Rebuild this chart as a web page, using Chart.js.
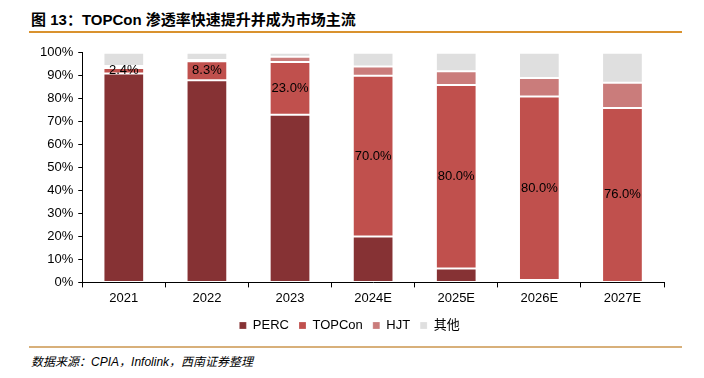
<!DOCTYPE html>
<html>
<head>
<meta charset="utf-8">
<script src="https://cdn.jsdelivr.net/npm/chart.js@4/dist/chart.umd.min.js"></script>
<style>
  html, body { margin: 0; padding: 0; background: #fff; }
  body { width: 704px; height: 378px; position: relative; overflow: hidden; font-family: "Liberation Sans", Arial, sans-serif; }
  #title { position: absolute; left: 31px; top: 8px; font-size: 15px; font-weight: bold; color: #000; white-space: nowrap; font-family: "Liberation Sans", "Noto Sans CJK SC", sans-serif; }
  #title .cjk { font-family: "Noto Sans CJK SC", sans-serif; font-weight: bold; }
  #topline { position: absolute; left: 29px; top: 31px; width: 653px; height: 2px; background: #D9922E; }
  #botline { position: absolute; left: 29px; top: 346px; width: 653px; height: 2px; background: #D8B07A; }
  #source { position: absolute; left: 31px; top: 352px; font-size: 12px; font-style: italic; color: #000; white-space: nowrap; }
  #source .cjk { font-family: "Noto Sans CJK SC", sans-serif; font-style: italic; }
  #wrap { position: absolute; left: 0; top: 40px; width: 704px; height: 306px; }
</style>
</head>
<body>
<div id="title"><span class="cjk">图</span> 13<span class="cjk">：</span>TOPCon <span class="cjk">渗透率快速提升并成为市场主流</span></div>
<div id="topline"></div>
<div id="wrap"><canvas id="c"></canvas></div>
<div id="botline"></div>
<div id="source"><span class="cjk">数据来源：</span>CPIA<span class="cjk">，</span>Infolink<span class="cjk">，西南证券整理</span></div>
<script>
const categories = ["2021", "2022", "2023", "2024E", "2025E", "2026E", "2027E"];
const seriesNames = ["PERC", "TOPCon", "HJT", "其他"];
const perc   = [91.0, 88.0, 73.0, 20.0, 6.0, 1.0, 0.0];
const topcon = [2.4, 8.3, 23.0, 70.0, 80.0, 80.0, 76.0];
const hjt    = [0.9, 0.6, 2.3, 4.0, 6.0, 8.0, 11.0];
const others = [5.7, 3.1, 1.7, 6.0, 8.0, 11.0, 13.0];
const yTicks = [0, 10, 20, 30, 40, 50, 60, 70, 80, 90, 100];

const colors = ["#863234", "#C0504D", "#CA7C7B", "#DFDFDF"];
const seriesData = [perc, topcon, hjt, others];

const labelPlugin = {
  id: 'segLabels',
  afterDatasetsDraw(chart) {
    const ctx = chart.ctx;
    const meta = chart.getDatasetMeta(1);
    ctx.save();
    ctx.font = '13px "Liberation Sans", Arial, sans-serif';
    ctx.fillStyle = '#000';
    ctx.textAlign = 'center';
    ctx.textBaseline = 'middle';
    meta.data.forEach((el, i) => {
      const p = el.getProps(['x', 'y', 'base'], true);
      ctx.fillText(topcon[i].toFixed(1) + '%', p.x, (p.y + p.base) / 2);
    });
    ctx.restore();
  }
};

new Chart(document.getElementById('c'), {
  type: 'bar',
  data: {
    labels: categories,
    datasets: seriesData.map((d, i) => ({
      label: seriesNames[i],
      data: d,
      backgroundColor: colors[i],
      borderColor: 'rgba(255,255,255,0.22)',
      borderWidth: 1,
      borderSkipped: false,
      categoryPercentage: 1.0,
      barPercentage: 0.49
    }))
  },
  options: {
    responsive: true,
    maintainAspectRatio: false,
    animation: false,
    layout: { padding: { left: 35, right: 40, top: 4, bottom: 4 } },
    plugins: {
      legend: {
        position: 'bottom',
        labels: {
          boxWidth: 7, boxHeight: 7, padding: 10,
          color: '#000',
          font: { size: 13, family: '"Liberation Sans", "Noto Sans CJK SC", Arial, sans-serif' }
        }
      },
      tooltip: { enabled: false }
    },
    scales: {
      x: {
        stacked: true,
        grid: { display: true, drawOnChartArea: false, offset: true, tickLength: 5, color: '#000' },
        border: { display: true, color: '#000', width: 1 },
        ticks: { color: '#000', padding: 3, font: { size: 13, family: '"Liberation Sans", Arial, sans-serif' } }
      },
      y: {
        stacked: true,
        min: 0, max: 100,
        afterBuildTicks(scale) { scale.ticks = yTicks.map(v => ({ value: v })); },
        grid: { display: true, drawOnChartArea: false, tickLength: 4, color: '#000' },
        border: { display: true, color: '#000', width: 1 },
        ticks: { color: '#000', padding: 5, callback: v => v + '%', font: { size: 13, family: '"Liberation Sans", Arial, sans-serif' } }
      }
    }
  },
  plugins: [labelPlugin]
});
</script>
</body>
</html>
